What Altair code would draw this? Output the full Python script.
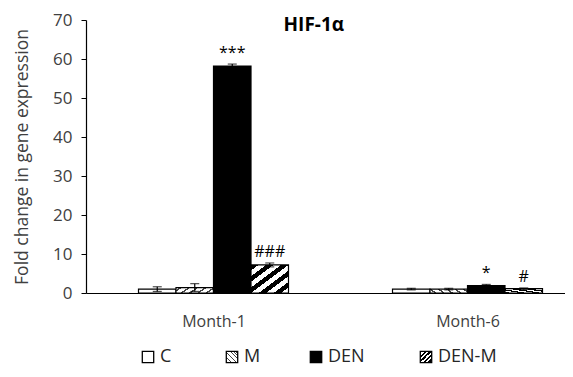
import altair as alt
import pandas as pd

groups = ["Month-1", "Month-6"]
series = ["C", "M", "DEN", "DEN-M"]
mean_month1 = [1.0, 1.4, 58.2, 7.2]
err_month1 = [0.6, 1.0, 0.5, 0.5]
mean_month6 = [1.0, 1.0, 1.9, 1.1]
err_month6 = [0.2, 0.2, 0.3, 0.2]
sig_month1 = ["", "", "***", "###"]
sig_month6 = ["", "", "*", "#"]

FONT = "Open Sans"
TXT = "#404040"
STEP_PX = 254.0      # px between group centres
W, H = 479, 273
BW = 37.5 / STEP_PX  # bar width in group units
X_LO = -127.5 / STEP_PX
X_HI = W / STEP_PX + X_LO

rows = []
for gi, (g, means, errs, sigs) in enumerate(
    [(groups[0], mean_month1, err_month1, sig_month1),
     (groups[1], mean_month6, err_month6, sig_month6)]):
    for si, s in enumerate(series):
        c = gi + (si - 1.5) * BW
        rows.append(dict(group=g, series=s, xc=c, x0=c - BW / 2, x1=c + BW / 2,
                         zero=0.0, mean=means[si], lo=means[si] - errs[si],
                         hi=means[si] + errs[si], sig=sigs[si]))
df = pd.DataFrame(rows)

# legend entry positions (Excel-like: advance depends on label length)
leg_rows = []
px = 62.0
for si, s in enumerate(series):
    leg_rows.append(dict(series=s, lx=px / STEP_PX + X_LO))
    px += 71 + 13 * len(s)
leg = pd.DataFrame(leg_rows)


def stripes(n, frac, color, x1, y1, x2, y2):
    stops = []
    for i in range(n):
        a = i / n
        b = (i + frac) / n
        stops += [alt.GradientStop(offset=a, color=color),
                  alt.GradientStop(offset=b, color=color),
                  alt.GradientStop(offset=b, color="white"),
                  alt.GradientStop(offset=(i + 1) / n, color="white")]
    return alt.LinearGradient(gradient="linear", stops=stops,
                              x1=x1, y1=y1, x2=x2, y2=y2)


fills = {
    "C": "white",
    "M": stripes(9, 0.28, "#444444", 0, 1, 1, 0),
    "DEN": "black",
    "DEN-M": stripes(5, 0.5, "black", 0, 0, 1, 1),
}

xscale = alt.Scale(domain=[X_LO, X_HI], nice=False, zero=False)
yscale = alt.Scale(domain=[0, 70], nice=False)
label_expr = "[" + ",".join("'%s'" % g for g in groups) + "][datum.value]"

xaxis = alt.Axis(values=[0, 1], labelExpr=label_expr, title=None, grid=False,
                 ticks=False, labelPadding=20, labelFontSize=16, labelFont=FONT,
                 labelColor=TXT, domainColor="black", domainWidth=1.2)
yaxis = alt.Axis(values=list(range(0, 71, 10)), title="Fold change in gene expression",
                 grid=False, tickSize=5, tickColor="black", domainColor="black",
                 domainWidth=1.2, labelPadding=9, labelFontSize=17, labelFont=FONT,
                 labelColor=TXT, titleFont=FONT, titleFontSize=17.5,
                 titleFontWeight="normal", titleColor=TXT, titlePadding=21)


def X(field):
    return alt.X(field, scale=xscale, axis=xaxis, title=None)


def Y(field):
    return alt.Y(field, scale=yscale, axis=yaxis, title="Fold change in gene expression")


base = alt.Chart(df)

bar_layers = []
for s in series:
    bar_layers.append(
        base.transform_filter(alt.datum.series == s)
        .mark_bar(fill=fills[s], stroke="black", strokeWidth=1.2)
        .encode(x=X("x0:Q"), x2="x1:Q", y=Y("zero:Q"), y2="mean:Q")
    )

err_rule = base.mark_rule(color="black", strokeWidth=1.2).encode(
    x=X("xc:Q"), y=Y("lo:Q"), y2="hi:Q")
cap_hi = base.mark_tick(orient="horizontal", size=9, thickness=1.2, color="black").encode(
    x=X("xc:Q"), y=Y("hi:Q"))
cap_lo = base.mark_tick(orient="horizontal", size=9, thickness=1.2, color="black").encode(
    x=X("xc:Q"), y=Y("lo:Q"))

sig_text = base.mark_text(font=FONT, fontSize=16, color="black", baseline="alphabetic",
                          dy=-6).encode(x=X("xc:Q"), y=Y("hi:Q"), text="sig:N")

leg_base = alt.Chart(leg)
leg_layers = []
for s in series:
    leg_layers.append(
        leg_base.transform_filter(alt.datum.series == s)
        .mark_square(size=130, fill=fills[s], stroke="black", strokeWidth=1.3, opacity=1)
        .encode(x=X("lx:Q"), y=alt.value(H + 64))
    )
leg_text = leg_base.mark_text(font=FONT, fontSize=18, color="#262626", align="left",
                              baseline="middle", dx=12).encode(
    x=X("lx:Q"), y=alt.value(H + 64), text="series:N")

chart = alt.layer(
    *bar_layers, err_rule, cap_hi, cap_lo, sig_text, *leg_layers, leg_text
).properties(
    width=W, height=H,
    title=alt.TitleParams("HIF-1α", font=FONT, fontSize=19, fontWeight="bold",
                          color="black", anchor="start", dx=270, dy=-6,
                          orient="top", offset=-30),
    autosize=alt.AutoSizeParams(type="none"),
    padding={"left": 78, "top": 12, "right": 0, "bottom": 76},
).configure_view(stroke=None)

chart.save("out.html", embed_options={"renderer": "svg", "actions": False})
